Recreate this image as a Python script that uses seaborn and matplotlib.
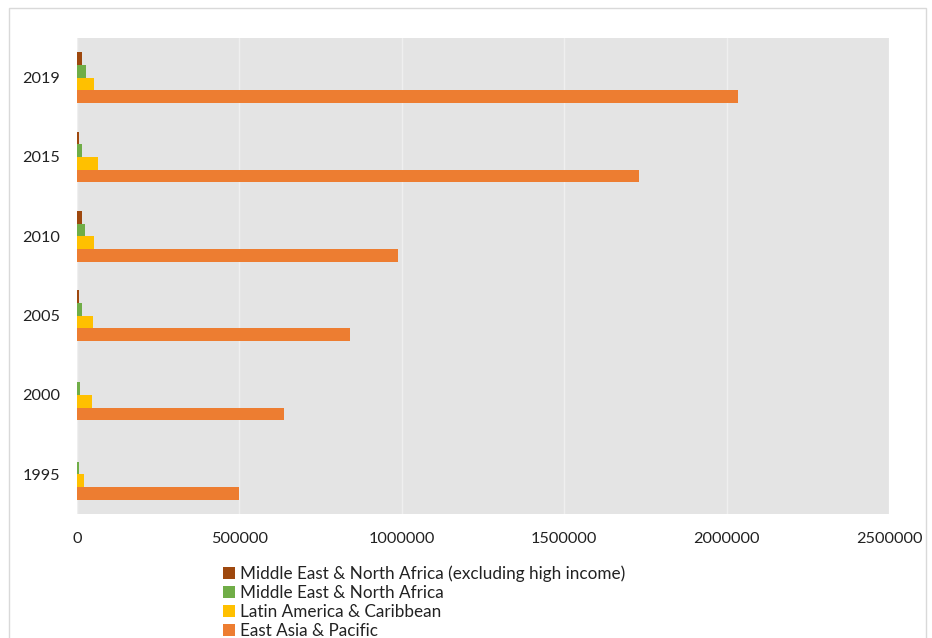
import matplotlib
matplotlib.use("Agg")
import matplotlib.pyplot as plt
from matplotlib.patches import Rectangle
import pandas as pd
import seaborn as sns

# Years, listed top to bottom as they appear on the axis
years = ["2019", "2015", "2010", "2005", "2000", "1995"]

regions = [
    "Middle East & North Africa (excluding high income)",
    "Middle East & North Africa",
    "Latin America & Caribbean",
    "East Asia & Pacific",
]

mena_excl_high = [15000, 6000, 16000, 6000, 1000, 500]
mena = [29000, 16000, 25000, 16000, 10000, 6000]
latam = [52000, 64000, 53000, 50000, 45000, 21000]
east_asia = [2036000, 1730000, 987000, 840000, 637000, 500000]

colors = ["#9E480E", "#70AD47", "#FFC000", "#ED7D31"]

series = [mena_excl_high, mena, latam, east_asia]
df = pd.DataFrame(
    [(y, r, v) for r, vals in zip(regions, series) for y, v in zip(years, vals)],
    columns=["year", "region", "value"],
)

sns.set_theme(style="white")
plt.rcParams["font.family"] = ["Lato", "DejaVu Sans"]

fig = plt.figure(figsize=(9.32, 6.38), dpi=100)
ax = fig.add_axes([77 / 932, 1 - 514 / 638, 812 / 932, 476 / 638])

sns.barplot(
    data=df, x="value", y="year", hue="region",
    order=years, hue_order=regions, palette=colors,
    orient="h", width=0.64, dodge=True, errorbar=None,
    saturation=1, linewidth=0, ax=ax,
)

ax.set_facecolor("#E4E4E4")
ax.set_xlim(0, 2500000)
ax.set_xticks([0, 500000, 1000000, 1500000, 2000000, 2500000])
ax.set_xticklabels(["0", "500000", "1000000", "1500000", "2000000", "2500000"])
ax.xaxis.grid(True, color="#EFEFEF", linewidth=1.0)
ax.set_axisbelow(True)
ax.yaxis.grid(False)
for s in ax.spines.values():
    s.set_visible(False)
ax.set_xlabel("")
ax.set_ylabel("")
ax.tick_params(axis="x", length=0, pad=13, labelsize=11.7, labelcolor="#222222")
ax.tick_params(axis="y", length=0, pad=12, labelsize=11.7, labelcolor="#222222")

handles, labels = ax.get_legend_handles_labels()
ax.get_legend().remove()
fig.legend(
    handles, labels, loc="upper left",
    bbox_to_anchor=(216 / 932, 1 - 559 / 638),
    frameon=False, fontsize=12.3, handlelength=0.7, handleheight=0.7,
    handletextpad=0.3, labelspacing=0.17, borderaxespad=0,
    labelcolor="#222222",
)

# light frame around the chart area
fig.patches.append(Rectangle((9 / 932, -0.02), 917 / 932, 1 - 8 / 638 + 0.02,
                             transform=fig.transFigure, fill=False,
                             edgecolor="#D9D9D9", linewidth=1.0))

fig.savefig("out.png", dpi=100)
